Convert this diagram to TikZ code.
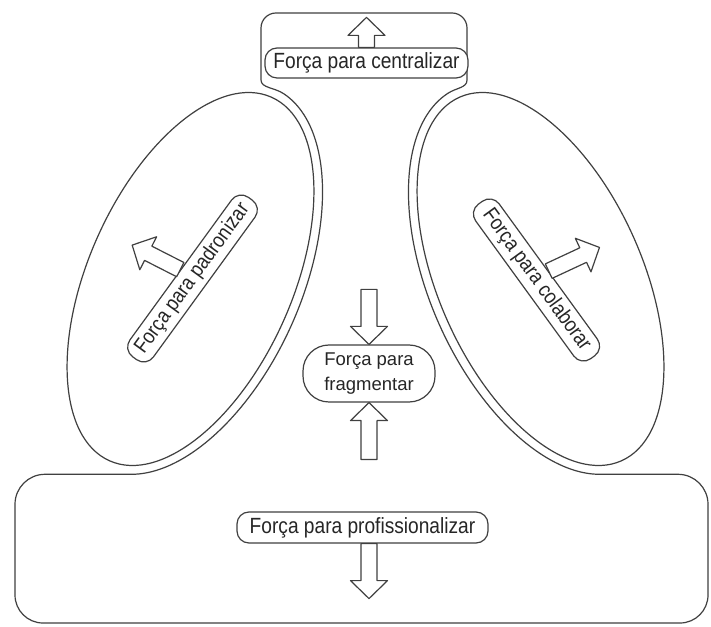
\documentclass[tikz,border=0pt]{standalone}
\usepackage{fontspec}
\setmainfont[FakeStretch=0.87]{Liberation Sans}
\newfontfamily\wideface{Liberation Sans}
\usetikzlibrary{calc}

\tikzset{
  outline/.style={line width=1.2pt, draw=black!75, line join=round},
  lab/.style={outline, fill=white, rounded corners=12, inner sep=0pt,
    text=black!85, font=\fontsize{22}{26}\selectfont},
  sidelab/.style={lab, minimum height=29, font=\fontsize{21}{25}\selectfont},
  harrow/.pic={
    \draw[outline, fill=white]
      (0,-8) -- (#1-18,-8) -- (#1-18,-18.5) -- (#1,0) -- (#1-18,18.5)
      -- (#1-18,8) -- (0,8) -- cycle;
  }
}

\begin{document}
\begin{tikzpicture}[x=1pt,y=1pt]
\fill[white] (0,0) rectangle (711,626);
\useasboundingbox (0,0) rectangle (711,626);

% the two tilted ellipses
\draw[outline, rotate around={66:(190.5,347)}] (190.5,347) ellipse[x radius=199, y radius=102];
\draw[outline, rotate around={-66:(540.5,347)}] (540.5,347) ellipse[x radius=199, y radius=102];

% single outer contour: base box, hugging both ellipses, top box
\draw[outline]
  (131.7,151.7)
  -- plot[variable=\t, domain=-166.6:-5, samples=90]
     ({190.5 + 84.59*cos(\t) - 101.40*sin(\t)}, {347 + 190.01*cos(\t) + 45.14*sin(\t)})
  .. controls (274.2,538.6) and (261,538) .. (261,546)
  -- (261,598) arc[start angle=180, end angle=90, radius=15]
  -- (452,613) arc[start angle=90, end angle=0, radius=15]
  -- (467,546)
  .. controls (467,538) and (456.8,538.6) .. (447.4,532.4)
  -- plot[variable=\s, domain=5:166.6, samples=90]
     ({540.5 - 84.59*cos(\s) - 101.40*sin(\s)}, {347 + 190.01*cos(\s) - 45.14*sin(\s)})
  -- (678,151.7) arc[start angle=90, end angle=0, radius=30]
  -- (708,31) arc[start angle=0, end angle=-90, radius=28]
  -- (43,3) arc[start angle=-90, end angle=-180, radius=28]
  -- (15,121.7) arc[start angle=180, end angle=90, radius=30]
  -- cycle;

% labels
\node[lab, minimum width=203, minimum height=30] (cent) at (366.5,563) {Força para centralizar};
\node[sidelab, rotate=54, minimum width=197] (pad) at (192.5,347.5) {Força para padronizar};
\node[sidelab, rotate=-54, minimum width=191] (col) at (536.5,346) {Força para colaborar};
\node[lab, minimum width=132, minimum height=57, rounded corners=26, align=center,
      font=\wideface\fontsize{18.5}{25}\selectfont] (frag) at (369,252.5) {Força para\\fragmentar};
\node[lab, minimum width=251, minimum height=31] (prof) at (362.5,98.5) {Força para profissionalizar};

% hollow force arrows
\pic[rotate=90] at (cent.north) {harrow=30};
\pic[rotate=153] at (pad.north) {harrow=54};
\pic[rotate=25] at (col.north) {harrow=56};
\pic[rotate=-90] at ($(frag.north)+(0,55)$) {harrow=55};
\pic[rotate=90] at ($(frag.south)+(0,-57)$) {harrow=57};
\pic[rotate=-90] at ($(prof.south)+(6.5,0)$) {harrow=55};
\end{tikzpicture}
\end{document}
